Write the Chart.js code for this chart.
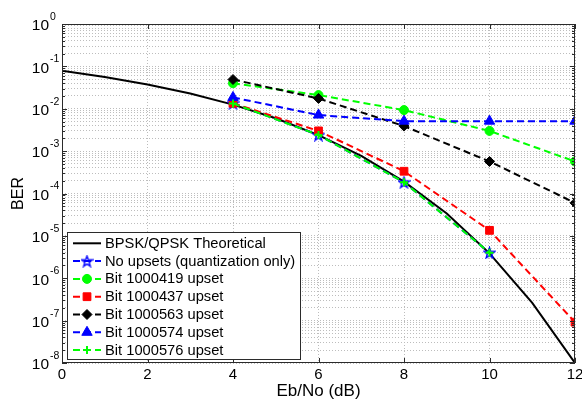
<!DOCTYPE html>
<html>
<head>
<meta charset="utf-8">
<script src="https://cdn.jsdelivr.net/npm/chart.js@4.4.0/dist/chart.umd.min.js"></script>
<style>
  html, body { margin: 0; padding: 0; background: #fff; }
  #wrap { width: 582px; height: 403px; }
</style>
</head>
<body>
<div id="wrap"><canvas id="berChart"></canvas></div>
<script>
// Eb/No axis points
const ebnoTheory = [0, 1, 2, 3, 4, 5, 6, 7, 8, 9, 10, 11, 12];
const ebnoSim = [4, 6, 8, 10, 12];

// BER values
const berTheory = [0.0786, 0.0563, 0.0375, 0.0229, 0.0125, 0.00595, 0.00239, 0.000773, 0.000191, 3.36e-5, 3.87e-6, 2.61e-7, 1.0e-8];
const berNoUpsets = [0.0135, 0.0024, 1.84e-4, 4.0e-6];
const ber1000419 = [0.040, 0.021, 0.0093, 0.0030, 5.7e-4];
const ber1000437 = [0.0135, 0.0030, 3.35e-4, 1.35e-5, 9.2e-8];
const ber1000563 = [0.049, 0.0175, 0.0039, 5.7e-4, 6.0e-5];
const ber1000574 = [0.0185, 0.0071, 0.0051, 0.0051, 0.0051];
const ber1000576 = [0.0133, 0.0024, 1.84e-4, 4.0e-6];

const xTicks = [0, 2, 4, 6, 8, 10, 12];
const yDecades = [0, -1, -2, -3, -4, -5, -6, -7, -8];

const FONT = "'Liberation Sans', Arial, sans-serif";

const toPts = (xs, ys) => ys.map((v, i) => ({ x: xs[i], y: v }));

// 5 point star marker like matlab 'p'
function makeStar(color) {
    const c = document.createElement('canvas');
    c.width = 13; c.height = 13;
    const g = c.getContext('2d');
    g.beginPath();
    for (let i = 0; i < 10; i++) {
        const r = i % 2 ? 2.3 : 5.6;
        const a = -Math.PI / 2 + i * Math.PI / 5;
        const px = 6.5 + r * Math.cos(a), py = 7 + r * Math.sin(a);
        if (i) g.lineTo(px, py); else g.moveTo(px, py);
    }
    g.closePath();
    g.strokeStyle = color;
    g.lineWidth = 1.4;
    g.stroke();
    return c;
}

const dash = [7, 4];
const dsBase = { borderWidth: 2, borderDash: dash, pointBorderWidth: 1, fill: false, tension: 0 };

const datasets = [
    { label: 'BPSK/QPSK Theoretical', data: toPts(ebnoTheory, berTheory), borderColor: '#000', backgroundColor: '#000',
      borderWidth: 2, pointRadius: 0, order: 7 },
    Object.assign({}, dsBase, { label: 'No upsets (quantization only)', data: toPts(ebnoSim, berNoUpsets),
      borderColor: '#0000ff', backgroundColor: '#0000ff', pointStyle: makeStar('#0000ff'), pointRadius: 6, order: 6 }),
    Object.assign({}, dsBase, { label: 'Bit 1000419 upset', data: toPts(ebnoSim, ber1000419),
      borderColor: '#00ff00', backgroundColor: '#00ff00', pointStyle: 'circle', pointRadius: 4.5, order: 5 }),
    Object.assign({}, dsBase, { label: 'Bit 1000437 upset', data: toPts(ebnoSim, ber1000437),
      borderColor: '#ff0000', backgroundColor: '#ff0000', pointStyle: 'rect', pointRadius: 5.5, order: 4 }),
    Object.assign({}, dsBase, { label: 'Bit 1000563 upset', data: toPts(ebnoSim, ber1000563),
      borderColor: '#000', backgroundColor: '#000', pointStyle: 'rectRot', pointRadius: 5, order: 3 }),
    Object.assign({}, dsBase, { label: 'Bit 1000574 upset', data: toPts(ebnoSim, ber1000574),
      borderColor: '#0000ff', backgroundColor: '#0000ff', pointStyle: 'triangle', pointRadius: 6, order: 2 }),
    Object.assign({}, dsBase, { label: 'Bit 1000576 upset', data: toPts(ebnoSim, ber1000576),
      borderColor: '#00ff00', backgroundColor: '#00ff00', pointStyle: 'cross', pointRadius: 4, pointBorderWidth: 2, order: 1 })
];

// white page, axes box, inward ticks, 10^n labels and the legend
const matlabLook = {
    id: 'matlabLook',
    beforeDraw(chart) {
        const ctx = chart.ctx;
        ctx.save();
        ctx.fillStyle = '#fff';
        ctx.fillRect(0, 0, chart.width, chart.height);
        ctx.restore();
    },
    afterDraw(chart) {
        const ctx = chart.ctx;
        const a = chart.chartArea;
        const xs = chart.scales.x, ys = chart.scales.y;
        ctx.save();
        ctx.strokeStyle = '#2b2b2b';
        ctx.lineWidth = 1;
        ctx.setLineDash([]);
        ctx.strokeRect(a.left + 0.5, a.top + 0.5, a.right - a.left - 1, a.bottom - a.top - 1);

        // y ticks
        ctx.beginPath();
        ys.ticks.forEach(t => {
            const y = Math.round(ys.getPixelForValue(t.value)) + 0.5;
            const major = Math.abs(Math.log10(t.value) - Math.round(Math.log10(t.value))) < 1e-6;
            const len = major ? 5 : 3;
            ctx.moveTo(a.left, y); ctx.lineTo(a.left + len, y);
            ctx.moveTo(a.right, y); ctx.lineTo(a.right - len, y);
        });
        xTicks.forEach(v => {
            const x = Math.round(xs.getPixelForValue(v)) + 0.5;
            ctx.moveTo(x, a.bottom); ctx.lineTo(x, a.bottom - 5);
            ctx.moveTo(x, a.top); ctx.lineTo(x, a.top + 5);
        });
        ctx.stroke();

        // 10^n labels
        ctx.fillStyle = '#000';
        yDecades.forEach(k => {
            const y = ys.getPixelForValue(Math.pow(10, k));
            ctx.font = '15.5px ' + FONT;
            ctx.textAlign = 'right';
            ctx.textBaseline = 'middle';
            ctx.fillText('10', 49, y + 2);
            ctx.font = '10.5px ' + FONT;
            ctx.textAlign = 'left';
            ctx.fillText(k === 0 ? '0' : '-' + Math.abs(k), 50, y - 7);
        });

        // legend
        const lx = 67, ly = 232, lw = 233, lh = 127;
        ctx.fillStyle = '#fff';
        ctx.fillRect(lx, ly, lw, lh);
        ctx.strokeStyle = '#2b2b2b';
        ctx.strokeRect(lx + 0.5, ly + 0.5, lw, lh);
        chart.data.datasets.forEach((ds, i) => {
            const y = 243.3 + i * 17.8;
            ctx.save();
            ctx.strokeStyle = ds.borderColor;
            ctx.lineWidth = ds.borderWidth;
            ctx.setLineDash(ds.borderDash || []);
            ctx.beginPath();
            ctx.moveTo(73, y); ctx.lineTo(101, y);
            ctx.stroke();
            ctx.setLineDash([]);
            if (ds.pointRadius) {
                ctx.fillStyle = ds.backgroundColor;
                ctx.lineWidth = ds.pointBorderWidth;
                Chart.helpers.drawPoint(ctx, {
                    pointStyle: ds.pointStyle, radius: ds.pointRadius, rotation: 0, borderWidth: ds.pointBorderWidth
                }, 87, y);
            }
            ctx.restore();
            ctx.fillStyle = '#000';
            ctx.font = '14.7px ' + FONT;
            ctx.textAlign = 'left';
            ctx.textBaseline = 'middle';
            ctx.fillText(ds.label, 105, y + 0.5);
        });
        ctx.restore();
    }
};

const ctx = document.getElementById('berChart').getContext('2d');
const berChart = new Chart(ctx, {
    type: 'line',
    data: { datasets: datasets },
    options: {
        responsive: true,
        maintainAspectRatio: false,
        animation: false,
        layout: { padding: { top: 24, right: 4, left: 0, bottom: 0 } },
        plugins: { legend: { display: false }, tooltip: { enabled: false } },
        scales: {
            x: {
                type: 'linear',
                min: 0,
                max: 12,
                afterBuildTicks: scale => { scale.ticks = xTicks.map(v => ({ value: v })); },
                afterFit: scale => { scale.height = 40; scale.paddingLeft = 0; scale.paddingRight = 0; },
                ticks: { autoSkip: false, maxRotation: 0, padding: 3, color: '#000', font: { family: FONT, size: 15 } },
                grid: { color: '#bdbdbd', lineWidth: 1, drawTicks: false },
                border: { display: false, dash: [1, 2] },
                title: { display: true, text: 'Eb/No (dB)', color: '#000', font: { family: FONT, size: 17 }, padding: { top: 0, bottom: 1 } }
            },
            y: {
                type: 'logarithmic',
                min: 1e-8,
                max: 1,
                afterBuildTicks: scale => {
                    const t = [];
                    for (let k = -8; k < 0; k++) {
                        for (let m = 1; m <= 9; m++) t.push({ value: m * Math.pow(10, k) });
                    }
                    t.push({ value: 1 });
                    scale.ticks = t;
                },
                afterFit: scale => { scale.width = 62; scale.paddingTop = 0; scale.paddingBottom = 0; },
                ticks: { autoSkip: false, callback: () => '', padding: 0 },
                grid: { color: '#bdbdbd', lineWidth: 1, drawTicks: false },
                border: { display: false, dash: [1, 2] },
                title: { display: true, text: 'BER', color: '#000', font: { family: FONT, size: 16 }, padding: { top: 9, bottom: 0 } }
            }
        }
    },
    plugins: [matlabLook]
});
</script>
</body>
</html>
